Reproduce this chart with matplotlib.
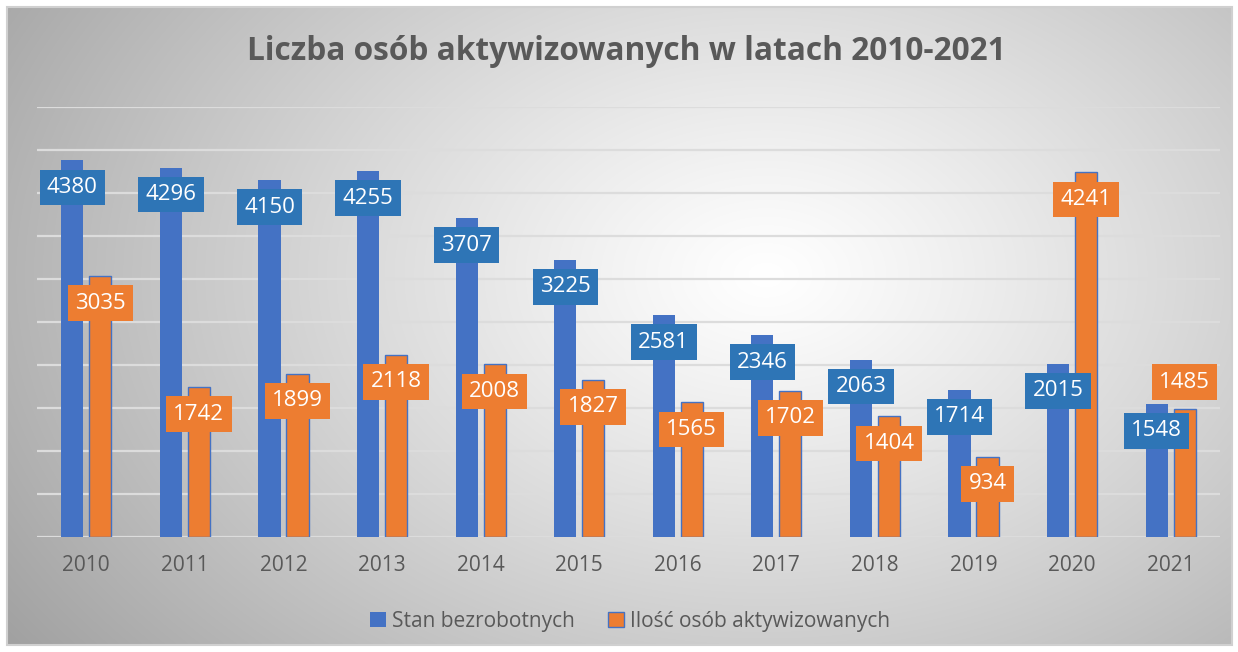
#!/usr/bin/env python3
# -*- coding: utf-8 -*-
import numpy as np
import matplotlib
matplotlib.use('Agg')
import matplotlib.pyplot as plt
from matplotlib.patches import Rectangle

TITLE = 'Liczba osób aktywizowanych w latach 2010-2021'

YEARS = ['2010', '2011', '2012', '2013', '2014', '2015',
         '2016', '2017', '2018', '2019', '2020', '2021']
STAN_BEZROBOTNYCH = [4380, 4296, 4150, 4255, 3707, 3225,
                     2581, 2346, 2063, 1714, 2015, 1548]
AKTYWIZOWANI = [3035, 1742, 1899, 2118, 2008, 1827,
                1565, 1702, 1404, 934, 4241, 1485]

STAN_LABEL = 'Stan bezrobotnych'
AKTYW_LABEL = 'Ilość osób aktywizowanych'

BLUE = '#4472C4'
BLUE_BOX = '#2E75B6'
ORANGE = '#ED7D31'
TEXT_GREY = '#595959'
FONT = ['Open Sans', 'DejaVu Sans']

W, H = 1238, 652
BAR_W = 0.225
OFFSET = 0.142


def draw_background(fig):
    # chart area with radial grey -> white gradient
    bg = fig.add_axes([7 / W, 7 / H, 1225 / W, 638 / H])
    yy, xx = np.mgrid[0:1:300j, 0:1:600j]
    cx, cy = 0.62, 0.42
    d = np.sqrt((xx - cx) ** 2 + ((yy - cy) * 0.75) ** 2)
    d = d / d.max()
    val = 1.0 - 0.37 * d ** 1.15
    img = np.dstack([val, val, val])
    bg.imshow(img, aspect='auto', extent=(0, 1, 1, 0), interpolation='bicubic')
    bg.set_xlim(0, 1)
    bg.set_ylim(1, 0)
    bg.axis('off')
    bg.add_patch(Rectangle((0, 0), 1, 1, transform=bg.transAxes, fill=False,
                           edgecolor='#d0d0d0', linewidth=1.5, clip_on=False))


def add_labels(ax, xs, values, box_color, above=()):
    for i, (x, v) in enumerate(zip(xs, values)):
        dy = 19.5 if i in above else -19.5
        ax.annotate(str(v), xy=(x, v), xytext=(0, dy), textcoords='offset points',
                    ha='center', va='center', color='white', fontsize=16,
                    family=FONT,
                    bbox=dict(boxstyle='square,pad=0.33', fc=box_color, ec='none'),
                    zorder=5)


def build_graph():
    fig = plt.figure(figsize=(W / 100, H / 100), dpi=100)
    fig.patch.set_facecolor('white')
    draw_background(fig)

    ax = fig.add_axes([37 / W, (H - 537) / H, 1183 / W, 430 / H])
    ax.set_facecolor('none')

    x = np.arange(len(YEARS))
    xs_blue = x - OFFSET
    xs_orange = x + OFFSET
    ax.bar(xs_blue, STAN_BEZROBOTNYCH, BAR_W, color=BLUE, label=STAN_LABEL, zorder=3)
    ax.bar(xs_orange, AKTYWIZOWANI, BAR_W, color=ORANGE, edgecolor=BLUE,
           linewidth=1, label=AKTYW_LABEL, zorder=3)

    add_labels(ax, xs_blue, STAN_BEZROBOTNYCH, BLUE_BOX)
    add_labels(ax, xs_orange, AKTYWIZOWANI, ORANGE, above={11})

    ax.set_xlim(-0.5, len(YEARS) - 0.5)
    ax.set_ylim(0, 5000)
    ax.set_yticks(np.arange(0, 5001, 500))
    ax.set_yticklabels([])
    ax.grid(axis='y', color='#dcdcdc', linewidth=1.6, zorder=0)
    ax.tick_params(axis='y', length=0)
    ax.set_xticks(x)
    ax.set_xticklabels(YEARS, fontsize=15, color=TEXT_GREY, family=FONT)
    ax.tick_params(axis='x', length=0, pad=13)
    for s in ax.spines.values():
        s.set_visible(False)

    fig.text(626 / W, 1 - 51 / H, TITLE, ha='center', va='center',
             fontsize=22.8, fontweight='bold', color=TEXT_GREY, family=FONT)

    leg = fig.legend(loc='center', bbox_to_anchor=(630 / W, 1 - 621 / H), ncol=2,
                     frameon=False, handlelength=0.75, handleheight=0.75,
                     handletextpad=0.3, columnspacing=1.6,
                     prop={'family': FONT, 'size': 15})
    for t in leg.get_texts():
        t.set_color(TEXT_GREY)

    fig.savefig('out.png', dpi=100)


if __name__ == '__main__':
    build_graph()
